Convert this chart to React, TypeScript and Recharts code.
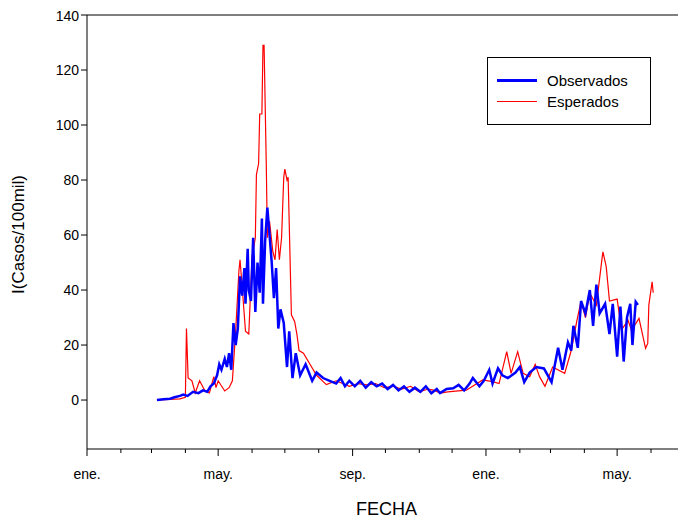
import React from "react";
import { ComposedChart, Line, XAxis, YAxis, ReferenceLine } from "recharts";

const monthTicks = [0, 31, 59, 90, 120, 151, 181, 212, 243, 273, 304, 334, 365, 396, 424, 455, 485, 516, 546];
const majorLabels: Record<number, string> = { 0: "ene.", 120: "may.", 243: "sep.", 365: "ene.", 485: "may." };
const yTicks = [0, 20, 40, 60, 80, 100, 120, 140];

const observados: [number, number][] = [
  [64,0],[70,0.3],[76,0.5],[80,1],[85,1.5],[88,2],[92,1.5],[97,3],[102,2.5],[106,3.5],[110,3],[113,5],[116,6],[119,9],[121,13],[123,11],[126,15],[128,12],[130,17],[132,11],[134,28],[136,20],[138,26],[140,45],[142,38],[144,48],[145,35],[147,55],[148,40],[150,36],[152,59],[154,32],[156,50],[158,39],[160,66],[161,35],[163,58],[165,70],[167,60],[169,50],[171,37],[173,48],[175,26],[177,33],[180,28],[183,12],[185,25],[188,8],[191,17],[195,9],[200,13],[206,7],[210,10],[216,8],[222,7],[228,6],[232,8],[236,5],[240,7],[245,5],[250,7],[255,4.5],[260,6.5],[265,5],[270,6],[275,4],[280,5.5],[285,3.5],[290,5],[295,3],[300,4.5],[305,3],[310,5],[315,2.5],[320,4],[323,2.5],[329,4],[335,4.3],[340,5.5],[345,3.5],[350,6],[353,8],[359,5],[363,7],[368,11],[371,6],[376,11.5],[380,9],[385,8],[392,10],[396,12],[400,6.5],[405,10],[411,12],[418,11.5],[425,6.5],[431,19],[435,11],[440,21],[443,18],[445,27],[449,19],[452,36],[456,31.5],[460,40],[463,27],[466,42],[469,31.5],[474,35],[478,24],[481,35],[485,15.8],[488,34],[491,14],[494,30],[497,35],[499,20],[502,35.7],[504,34.6]
];

const esperados: [number, number][] = [
  [64,0],[75,0.2],[85,0.4],[90,1],[91,26],[92.5,8],[96,7],[99,2.6],[103,7],[108,3.3],[112,2.6],[116,8.5],[118,4.5],[120,7],[126,3.3],[130,4.5],[133,7],[136,25],[139,47],[140,51],[142,41],[145,25],[148,24],[151,52],[154,59],[155,82],[157,86],[158,104],[160,104],[161,129],[162,129],[164,86],[165,59],[167,65],[170,54],[172,51],[174,62],[176,51],[178,59],[180,81],[181,84],[183,80],[184,81],[187,31],[190,28.5],[192,24],[194,18],[198,17],[204,13],[210,9],[219,5.6],[228,7],[240,5],[248,6],[256,5.5],[264,6],[272,4.5],[280,5],[288,4],[296,5],[304,3],[312,4],[318,3.5],[323,2.5],[330,3],[347,3.6],[362,7.3],[371,6.7],[377,6],[384,17.6],[388,9.7],[394,17.6],[399,9.7],[405,8.5],[410,13],[414,8.5],[419,5],[426,12],[437,9.7],[443,18],[448,28.5],[452,36],[456,30],[460,38.8],[466,34.5],[471,50.9],[472,53.9],[475,48.5],[478,36],[485,36.7],[489,25.5],[495,29],[498,25.5],[502,27.8],[505,29.7],[511,18.8],[513,20.6],[514,34.5],[517,43],[518,39]
];

const obsData = observados.map(([d, v]) => ({ d, v }));
const espData = esperados.map(([d, v]) => ({ d, v }));

const XTick = (props: any) => {
  const { x, y, payload } = props;
  const lbl = majorLabels[payload.value];
  return (
    <g>
      <line x1={x} y1={y - 8} x2={x} y2={y - 8 + (lbl ? 7 : 4)} stroke="#000" />
      {lbl && <text x={x} y={y + 22} textAnchor="middle" fontSize={14} fill="#000">{lbl}</text>}
    </g>
  );
};

export default function App() {
  return (
    <div style={{ fontFamily: "Liberation Sans, Arial, sans-serif", position: "relative", width: 678, height: 514 }}>
      <ComposedChart width={678} height={514} margin={{ top: 7, right: 0, bottom: 0, left: 0 }}>
        <XAxis dataKey="d" type="number" domain={[0, 548]} ticks={monthTicks} interval={0} tick={<XTick />} tickLine={false} axisLine={{ stroke: "#000" }} height={73} allowDuplicatedCategory={false}
          label={{ value: "FECHA", position: "insideBottom", offset: 7, fontSize: 18, fill: "#000" }} />
        <YAxis type="number" domain={[-17.8, 140]} ticks={yTicks} width={79} allowDataOverflow tick={{ fontSize: 14, fill: "#000" }} tickLine={{ stroke: "#000" }} tickSize={6} axisLine={{ stroke: "#000" }}
          label={{ value: "I(Casos/100mil)", angle: -90, position: "insideLeft", offset: 10, fontSize: 17, fill: "#000", dy: 62 }} />
        <ReferenceLine y={140} stroke="#000" />
        <Line data={espData} dataKey="v" name="Esperados" stroke="#ff0000" strokeWidth={1.2} dot={false} isAnimationActive={false} />
        <Line data={obsData} dataKey="v" name="Observados" stroke="#0000ff" strokeWidth={2.5} dot={false} isAnimationActive={false} />
      </ComposedChart>
      <div style={{ position: "absolute", left: 479, top: 49, border: "1px solid #000", background: "#fff", width: 164, height: 68, boxSizing: "border-box", padding: "12px 0 0 9px", fontSize: 15 }}>
        <div style={{ display: "flex", alignItems: "center", height: 21 }}>
          <div style={{ width: 40, height: 3, background: "#0000ff", marginRight: 10 }} />Observados
        </div>
        <div style={{ display: "flex", alignItems: "center", height: 21 }}>
          <div style={{ width: 40, height: 1, background: "#ff0000", marginRight: 10 }} />Esperados
        </div>
      </div>
    </div>
  );
}
